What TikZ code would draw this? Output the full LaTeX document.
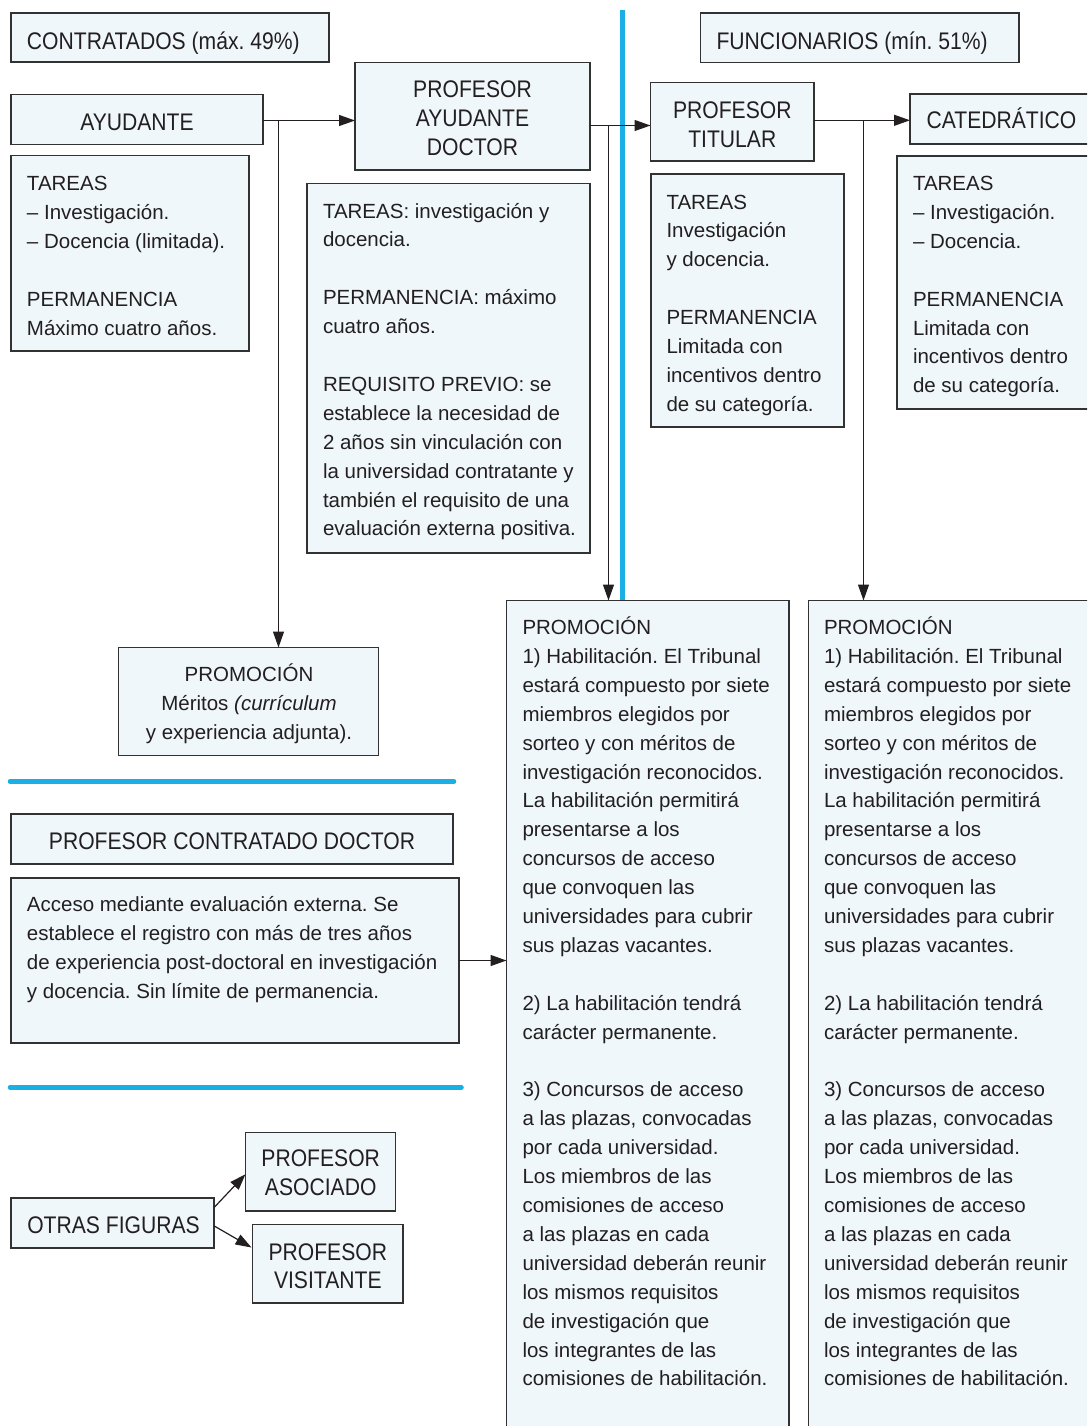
\documentclass[tikz,border=0pt]{standalone}
\usepackage{fontspec}
\setmainfont{Liberation Sans}
\newfontfamily\titlefont{Liberation Sans}[FakeStretch=0.88]
\usetikzlibrary{arrows.meta,calc}
\frenchspacing
\definecolor{boxc}{RGB}{50,50,50}
\definecolor{fillc}{RGB}{239,247,251}
\definecolor{bluel}{RGB}{28,175,230}
\definecolor{txtc}{RGB}{35,31,32}
\newcommand{\bodytxt}[1]{\parbox[t]{420pt}{\frenchspacing\fontsize{20.5pt}{28.9pt}\selectfont\raggedright #1}}
\newcommand{\bodyctr}[1]{\parbox[t]{300pt}{\frenchspacing\fontsize{20.5pt}{28.9pt}\selectfont\centering #1}}
\newcommand{\ttltxt}[1]{\parbox[t]{420pt}{\titlefont\fontsize{24pt}{28.9pt}\selectfont\raggedright #1}}
\newcommand{\ttlctr}[1]{\parbox[t]{500pt}{\titlefont\fontsize{24pt}{28.9pt}\selectfont\centering #1}}
\tikzset{
  box/.style={draw=boxc, fill=fillc, line width=1.2pt, inner sep=0pt, outer sep=0pt, anchor=north west, rectangle},
  lt/.style={anchor=base west, inner sep=0pt, outer sep=0pt, text=txtc},
  ct/.style={anchor=base, inner sep=0pt, outer sep=0pt, text=txtc},
  arr/.style={draw=txtc, line width=1.2pt, -{Triangle[length=16pt,width=11pt]}},
  sep/.style={draw=bluel, line width=4.5pt, line cap=round}
}
\begin{document}
\begin{tikzpicture}[x=1pt,y=-1pt]
\useasboundingbox (0,0) rectangle (1087,1426);
\clip (0,0) rectangle (1087,1426);
\fill[white] (0,0) rectangle (1087,1426);
% blue separators
\draw[draw=bluel, line width=5pt] (622.5,10) -- (622.5,601);
\draw[sep] (10,781.5) -- (454,781.5);
\draw[sep] (10,1087.3) -- (461.5,1087.3);
% boxes
\node[box, minimum width=318pt, minimum height=49pt] (contr) at (11,13) {};
\node[box, minimum width=252pt, minimum height=50pt] (ayud) at (11,94.5) {};
\node[box, minimum width=238pt, minimum height=195.5pt] (ayudT) at (11,155.5) {};
\node[box, minimum width=235pt, minimum height=107.5pt] (pad) at (355,62.5) {};
\node[box, minimum width=283pt, minimum height=369.5pt] (padT) at (307,183.5) {};
\node[box, minimum width=318.5pt, minimum height=49.5pt] (func) at (700.5,13) {};
\node[box, minimum width=163.5pt, minimum height=78.5pt] (tit) at (650.5,82.5) {};
\node[box, minimum width=193pt, minimum height=253pt] (titT) at (651,174) {};
\node[box, minimum width=183pt, minimum height=50pt] (cat) at (910,94) {};
\node[box, minimum width=203pt, minimum height=253pt] (catT) at (897,156) {};
\node[box, minimum width=260pt, minimum height=108pt] (promA) at (118.5,647.5) {};
\node[box, minimum width=442pt, minimum height=50pt] (pcd) at (11,814) {};
\node[box, minimum width=448pt, minimum height=165pt] (pcdT) at (11,878) {};
\node[box, minimum width=203pt, minimum height=50pt] (otras) at (11,1198) {};
\node[box, minimum width=150pt, minimum height=78.5pt] (asoc) at (245.5,1132.5) {};
\node[box, minimum width=150.5pt, minimum height=78.5pt] (visit) at (252.5,1224.5) {};
\node[box, minimum width=282.5pt, minimum height=839.5pt] (prom1) at (506.5,600.5) {};
\node[box, minimum width=291.5pt, minimum height=839.5pt] (prom2) at (808.5,600.5) {};
% titles
\node[lt] (tcontr) at (27,49.3) {\ttltxt{CONTRATADOS (máx. 49\%)}};
\node[lt] (tfunc) at (716.5,49.3) {\ttltxt{FUNCIONARIOS (mín. 51\%)}};
\node[ct] (tayud) at (137,130.7) {\ttlctr{AYUDANTE}};
\node[ct] (tpad) at (472.5,97.3) {\ttlctr{PROFESOR\\AYUDANTE\\DOCTOR}};
\node[ct] (ttit) at (732.3,118.3) {\ttlctr{PROFESOR\\TITULAR}};
\node[ct] (tcat) at (1001.5,128.3) {\ttlctr{CATEDRÁTICO}};
\node[ct] (tpcd) at (232,849.3) {\ttlctr{PROFESOR CONTRATADO DOCTOR}};
\node[lt] (totras) at (27.3,1233.3) {\ttltxt{OTRAS FIGURAS}};
\node[ct] (tasoc) at (320.7,1166.7) {\ttlctr{PROFESOR\\ASOCIADO}};
\node[ct] (tvisit) at (327.8,1260) {\ttlctr{PROFESOR\\VISITANTE}};
% body texts
\node[lt] (xayud) at (27,190.5) {\bodytxt{TAREAS\\– Investigación.\\– Docencia (limitada).\\[28.9pt]PERMANENCIA\\Máximo cuatro años.}};
\node[lt] (xpad) at (323,218) {\bodytxt{TAREAS: investigación y\\docencia.\\[28.9pt]PERMANENCIA: máximo\\cuatro años.\\[28.9pt]REQUISITO PREVIO: se\\establece la necesidad de\\2 años sin vinculación con\\la universidad contratante y\\también el requisito de una\\evaluación externa positiva.}};
\node[lt] (xtit) at (666.5,209) {\bodytxt{TAREAS\\Investigación\\y docencia.\\[28.9pt]PERMANENCIA\\Limitada con\\incentivos dentro\\de su categoría.}};
\node[lt] (xcat) at (913,190.5) {\bodytxt{TAREAS\\– Investigación.\\– Docencia.\\[28.9pt]PERMANENCIA\\Limitada con\\incentivos dentro\\de su categoría.}};
\node[ct] (xpromA) at (249,681.7) {\bodyctr{PROMOCIÓN\\Méritos \textit{(currículum}\\y experiencia adjunta).}};
\node[lt] (xpcd) at (27,911.7) {\bodytxt{Acceso mediante evaluación externa. Se\\establece el registro con más de tres años\\de experiencia post-doctoral en investigación\\y docencia. Sin límite de permanencia.}};
\node[lt] (xprom1) at (522.5,634.5) {\bodytxt{PROMOCIÓN\\1) Habilitación. El Tribunal\\estará compuesto por siete\\miembros elegidos por\\sorteo y con méritos de\\investigación reconocidos.\\La habilitación permitirá\\presentarse a los\\concursos de acceso\\que convoquen las\\universidades para cubrir\\sus plazas vacantes.\\[28.9pt]2) La habilitación tendrá\\carácter permanente.\\[28.9pt]3) Concursos de acceso\\a las plazas, convocadas\\por cada universidad.\\Los miembros de las\\comisiones de acceso\\a las plazas en cada\\universidad deberán reunir\\los mismos requisitos\\de investigación que\\los integrantes de las\\comisiones de habilitación.}};
\node[lt] (xprom2) at (824,634.5) {\bodytxt{PROMOCIÓN\\1) Habilitación. El Tribunal\\estará compuesto por siete\\miembros elegidos por\\sorteo y con méritos de\\investigación reconocidos.\\La habilitación permitirá\\presentarse a los\\concursos de acceso\\que convoquen las\\universidades para cubrir\\sus plazas vacantes.\\[28.9pt]2) La habilitación tendrá\\carácter permanente.\\[28.9pt]3) Concursos de acceso\\a las plazas, convocadas\\por cada universidad.\\Los miembros de las\\comisiones de acceso\\a las plazas en cada\\universidad deberán reunir\\los mismos requisitos\\de investigación que\\los integrantes de las\\comisiones de habilitación.}};
% junctions
\coordinate (j1) at (278.5,120.5);
\coordinate (j2) at (608.5,125.5);
\coordinate (j3) at (863.5,120.3);
\coordinate (o1) at (214.3,1207.3);
\coordinate (o2) at (214.3,1226);
% connectors
\draw[arr] (ayud.east |- j1) -- (j1 -| pad.west);
\draw[arr] (j1) -- (j1 |- promA.north);
\draw[arr] (pad.east |- j2) -- (j2 -| tit.west);
\draw[arr] (j2) -- (j2 |- prom1.north);
\draw[arr] (tit.east |- j3) -- (j3 -| cat.west);
\draw[arr] (j3) -- (j3 |- prom2.north);
\draw[arr] (pcdT.east) -- (pcdT.east -| prom1.west);
\draw[arr] (o1) -- ($(asoc.west)+(0,2.5)$);
\draw[arr] (o2) -- ($(visit.north west)+(-1,23)$);
\end{tikzpicture}
\end{document}
